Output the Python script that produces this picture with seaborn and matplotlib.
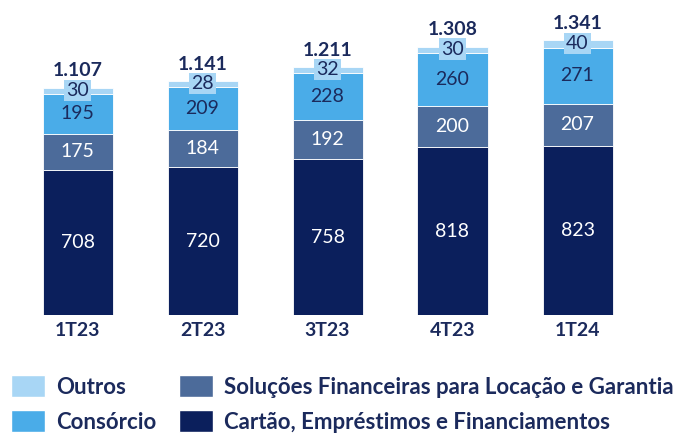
import numpy as np
import pandas as pd
import seaborn as sns
import matplotlib.pyplot as plt
from matplotlib.patches import Patch

quarters = ["1T23", "2T23", "3T23", "4T23", "1T24"]
cartao = [708, 720, 758, 818, 823]
solucoes = [175, 184, 192, 200, 207]
consorcio = [195, 209, 228, 260, 271]
outros = [30, 28, 32, 30, 40]
totals = ["1.107", "1.141", "1.211", "1.308", "1.341"]

series_names = ["Cartão, Empréstimos e Financiamentos",
                "Soluções Financeiras para Locação e Garantia",
                "Consórcio", "Outros"]
colors = ["#0B1F5C", "#4C6B9A", "#4AACE8", "#A8D6F5"]
text_colors = ["white", "white", "#1B2A5C", "#1B2A5C"]
dark = "#1B2A5C"

sns.set_style("white")
plt.rcParams["font.family"] = ["Lato", "DejaVu Sans"]

fig = plt.figure(figsize=(6.74, 4.42), dpi=100)
ax = fig.add_axes([15 / 674, 127 / 442, 625 / 674, 0.673])

df = pd.DataFrame({"quarter": quarters, "cartao": cartao, "solucoes": solucoes,
                   "consorcio": consorcio, "outros": outros})
cols = ["cartao", "solucoes", "consorcio", "outros"]

bottom = np.zeros(len(quarters))
for col, color, tcol in zip(cols, colors, text_colors):
    vals = df[col].to_numpy()
    sns.barplot(data=df, x="quarter", y=col, bottom=bottom, color=color,
                width=0.56, ax=ax, saturation=1, edgecolor="white", linewidth=0.6)
    for i, v in enumerate(vals):
        y = bottom[i] + v / 2
        if col == "outros":
            # o rótulo de "Outros" fica numa caixinha da mesma cor
            ax.text(i, y + 2, str(v), ha="center", va="center", fontsize=14, color=tcol,
                    bbox=dict(boxstyle="square,pad=0.12", facecolor=color, edgecolor="none"))
        else:
            ax.text(i, y, str(v), ha="center", va="center", fontsize=14, color=tcol)
    bottom = bottom + vals

for i, t in enumerate(totals):
    ax.text(i, bottom[i] + 40, t, ha="center", va="bottom", fontsize=14,
            fontweight="bold", color=dark)

ax.set_xlim(-0.5, 4.5)
ax.set_ylim(0, 1450)
ax.set_xlabel("")
ax.set_ylabel("")
ax.set_yticks([])
ax.tick_params(axis="x", length=0, pad=5)
for lab in ax.get_xticklabels():
    lab.set_fontweight("bold")
    lab.set_fontsize(14)
    lab.set_color(dark)
sns.despine(ax=ax, left=True, bottom=True)

handles = [Patch(facecolor=colors[3]), Patch(facecolor=colors[2]),
           Patch(facecolor=colors[1]), Patch(facecolor=colors[0])]
labels = ["Outros", "Consórcio", series_names[1], series_names[0]]
leg = fig.legend(handles, labels, ncol=2, loc="upper left",
                 bbox_to_anchor=(11 / 674, 1 - 375 / 442),
                 frameon=False, borderpad=0, borderaxespad=0,
                 handlelength=1.53, handleheight=1.17, handletextpad=0.5,
                 columnspacing=1.0, labelspacing=0.55,
                 prop={"size": 16, "weight": "bold"})
for txt in leg.get_texts():
    txt.set_color(dark)

fig.savefig("out.png", dpi=100)
